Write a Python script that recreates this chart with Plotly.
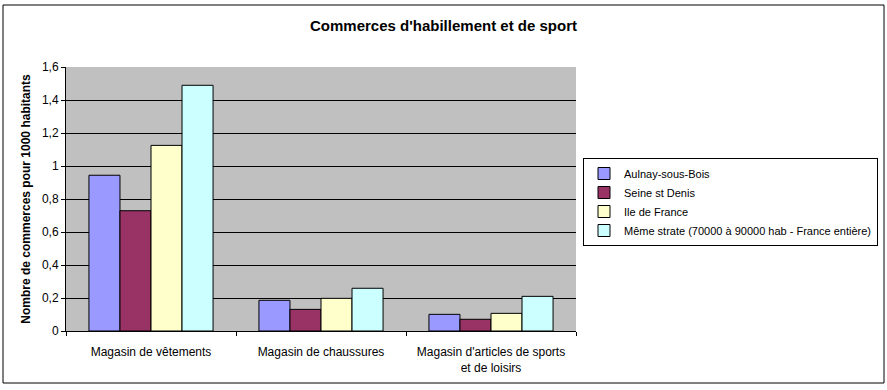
import plotly.graph_objects as go

categories = ["Magasin de vêtements", "Magasin de chaussures",
              "Magasin d'articles de sports<br>et de loisirs"]
series_names = ["Aulnay-sous-Bois", "Seine st Denis", "Ile de France",
                "Même strate (70000 à 90000 hab - France entière)"]
aulnay = [0.944, 0.186, 0.101]
seine = [0.729, 0.131, 0.071]
idf = [1.125, 0.198, 0.107]
meme = [1.489, 0.259, 0.210]
colors = ["#9999FF", "#993366", "#FFFFCC", "#CCFFFF"]
y_ticks = [0, 0.2, 0.4, 0.6, 0.8, 1.0, 1.2, 1.4, 1.6]

FONT = "Liberation Sans, Arial, sans-serif"

fig = go.Figure()
for name, vals, col in zip(series_names, [aulnay, seine, idf, meme], colors):
    fig.add_trace(go.Bar(
        x=categories, y=vals, name=name,
        marker=dict(color=col, line=dict(color="black", width=1)),
    ))

fig.update_layout(
    width=887, height=390,
    margin=dict(l=66, r=311, t=67, b=59, autoexpand=False),
    paper_bgcolor="white",
    plot_bgcolor="#C0C0C0",
    separators=", ",
    barmode="group",
    bargap=0.27,
    bargroupgap=0,
    font=dict(family=FONT, size=12, color="black"),
    title=dict(text="<b>Commerces d'habillement et de sport</b>",
               x=0.5, xref="container", xanchor="center",
               y=1 - 26 / 390, yanchor="middle",
               font=dict(size=15, family=FONT)),
    showlegend=True,
    legend=dict(
        x=(583 - 66) / 510, xanchor="left",
        y=(331 - 158) / 264, yanchor="top",
        bordercolor="black", borderwidth=1,
        bgcolor="white",
        font=dict(size=11, family=FONT),
        itemwidth=30,
        traceorder="normal",
    ),
    xaxis=dict(
        showline=True, linecolor="black", linewidth=1,
        ticks="outside", tickson="boundaries", ticklen=4, tickcolor="black",
        showgrid=False,
        tickfont=dict(size=12),
        ticklabelstandoff=10,
    ),
    yaxis=dict(
        range=[0, 1.6],
        tickvals=y_ticks,
        showline=True, linecolor="black", linewidth=1,
        ticks="outside", ticklen=4, tickcolor="black",
        showgrid=True, gridcolor="black", gridwidth=1,
        zeroline=False,
        tickfont=dict(size=12),
        title=dict(text="<b>Nombre de commerces pour 1000 habitants</b>",
                   font=dict(size=12), standoff=8),
    ),
    shapes=[
        dict(type="rect", xref="paper", yref="paper",
             x0=(3 - 66) / 510, x1=(884 - 66) / 510,
             y0=(331 - 383) / 264, y1=(331 - 5) / 264,
             line=dict(color="black", width=1), fillcolor="rgba(0,0,0,0)",
             layer="below"),
    ],
)

fig.write_html("out.html")
